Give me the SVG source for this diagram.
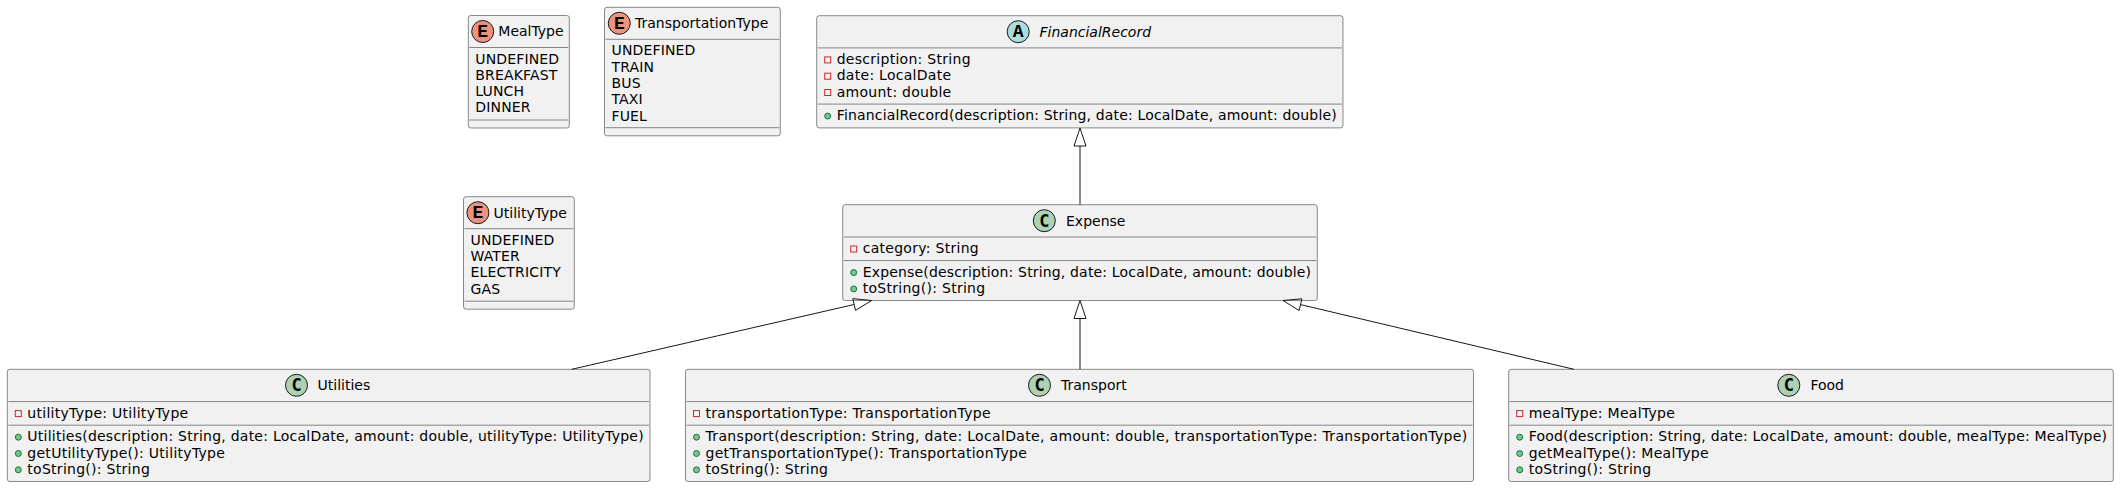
<svg xmlns="http://www.w3.org/2000/svg" width="2120" height="488" viewBox="0 0 2120 488">
<style>
.box{fill:#F1F1F1;stroke:#181818;stroke-width:0.5}
.sep{stroke:#181818;stroke-width:0.5}
.t{font-family:"DejaVu Sans","Liberation Sans",sans-serif;font-size:14px;fill:#000000}
.m{letter-spacing:0.28px}
.en{letter-spacing:0.15px}
.it{font-style:italic}
.priv{fill:none;stroke:#C82930;stroke-width:1}
.pub{fill:#84BE84;stroke:#038048;stroke-width:1}
.cc{fill:#ADD1B2;stroke:#181818;stroke-width:1}
.ce{fill:#EB937F;stroke:#181818;stroke-width:1}
.ca{fill:#A9DCDF;stroke:#181818;stroke-width:1}
.ltr{font-family:"DejaVu Sans Mono","Liberation Mono",monospace;font-weight:bold;font-size:17px;fill:#000000;text-anchor:middle}
.ltrs{font-family:"Liberation Mono","DejaVu Sans Mono",monospace;font-weight:bold;font-size:18px;fill:#000000;text-anchor:middle}
.link{stroke:#181818;stroke-width:1;fill:none}
.head{fill:none;stroke:#181818;stroke-width:1}
</style>

<g id="MealType">
<rect class="box" x="468.3" y="15.5" width="101" height="112.5" rx="2.5" ry="2.5"/>
<circle class="ce" cx="482.7" cy="31.5" r="11"/>
<text class="ltrs" x="482.7" y="37">E</text>
<text class="t" x="498.3" y="36.3">MealType</text>
<line class="sep" x1="469.3" y1="47.5" x2="568.3" y2="47.5"/>
<text class="t en" x="475.3" y="63.5">UNDEFINED</text>
<text class="t en" x="475.3" y="79.8">BREAKFAST</text>
<text class="t en" x="475.3" y="96.1">LUNCH</text>
<text class="t en" x="475.3" y="112.4">DINNER</text>
<line class="sep" x1="469.3" y1="120" x2="568.3" y2="120"/>
</g>

<g id="TransportationType">
<rect class="box" x="604.5" y="7.3" width="175.8" height="128.5" rx="2.5" ry="2.5"/>
<circle class="ce" cx="619.3" cy="23.3" r="11"/>
<text class="ltrs" x="619.3" y="28.8">E</text>
<text class="t" x="635" y="28.1">TransportationType</text>
<line class="sep" x1="605.5" y1="39.3" x2="779.3" y2="39.3"/>
<text class="t en" x="611.5" y="55.3">UNDEFINED</text>
<text class="t en" x="611.5" y="71.6">TRAIN</text>
<text class="t en" x="611.5" y="87.9">BUS</text>
<text class="t en" x="611.5" y="104.2">TAXI</text>
<text class="t en" x="611.5" y="120.5">FUEL</text>
<line class="sep" x1="605.5" y1="127.7" x2="779.3" y2="127.7"/>
</g>

<g id="FinancialRecord">
<rect class="box" x="816.7" y="15.7" width="526.3" height="112.2" rx="2.5" ry="2.5"/>
<circle class="ca" cx="1018.2" cy="31.7" r="11"/>
<text class="ltrs" x="1018.2" y="37.2">A</text>
<text class="t it" x="1039.5" y="36.5">FinancialRecord</text>
<line class="sep" x1="817.7" y1="47.9" x2="1342" y2="47.9"/>
<rect class="priv" x="824.7" y="56.9" width="6" height="6"/>
<text class="t m" x="836.7" y="63.9">description: String</text>
<rect class="priv" x="824.7" y="73.2" width="6" height="6"/>
<text class="t m" x="836.7" y="80.2">date: LocalDate</text>
<rect class="priv" x="824.7" y="89.5" width="6" height="6"/>
<text class="t m" x="836.7" y="96.5">amount: double</text>
<line class="sep" x1="817.7" y1="104.1" x2="1342" y2="104.1"/>
<circle class="pub" cx="827.7" cy="116.1" r="3"/>
<text class="t" x="836.7" y="120.1" textLength="500" lengthAdjust="spacing">FinancialRecord(description: String, date: LocalDate, amount: double)</text>
</g>

<g id="UtilityType">
<rect class="box" x="463.5" y="196.7" width="110.8" height="112.5" rx="2.5" ry="2.5"/>
<circle class="ce" cx="477.9" cy="212.7" r="11"/>
<text class="ltrs" x="477.9" y="218.2">E</text>
<text class="t" x="493.5" y="217.5">UtilityType</text>
<line class="sep" x1="464.5" y1="228.7" x2="573.3" y2="228.7"/>
<text class="t en" x="470.5" y="244.7">UNDEFINED</text>
<text class="t en" x="470.5" y="261">WATER</text>
<text class="t en" x="470.5" y="277.3">ELECTRICITY</text>
<text class="t en" x="470.5" y="293.6">GAS</text>
<line class="sep" x1="464.5" y1="301.2" x2="573.3" y2="301.2"/>
</g>

<g id="Expense">
<rect class="box" x="842.7" y="204.7" width="474.6" height="95.8" rx="2.5" ry="2.5"/>
<circle class="cc" cx="1044.3" cy="220.7" r="11"/>
<text class="ltr" x="1044.3" y="226.6">C</text>
<text class="t" x="1066" y="225.5">Expense</text>
<line class="sep" x1="843.7" y1="237" x2="1316.3" y2="237"/>
<rect class="priv" x="850.7" y="246" width="6" height="6"/>
<text class="t m" x="862.7" y="253">category: String</text>
<line class="sep" x1="843.7" y1="260.6" x2="1316.3" y2="260.6"/>
<circle class="pub" cx="853.7" cy="272.6" r="3"/>
<text class="t" x="862.7" y="276.6" textLength="448.3" lengthAdjust="spacing">Expense(description: String, date: LocalDate, amount: double)</text>
<circle class="pub" cx="853.7" cy="288.9" r="3"/>
<text class="t m" x="862.7" y="292.9">toString(): String</text>
</g>

<g id="Utilities">
<rect class="box" x="7.3" y="369.3" width="642.7" height="112.2" rx="2.5" ry="2.5"/>
<circle class="cc" cx="296.5" cy="385.3" r="11"/>
<text class="ltr" x="296.5" y="391.2">C</text>
<text class="t" x="317.5" y="390.1">Utilities</text>
<line class="sep" x1="8.3" y1="401.6" x2="649" y2="401.6"/>
<rect class="priv" x="15.3" y="410.6" width="6" height="6"/>
<text class="t m" x="27.3" y="417.6">utilityType: UtilityType</text>
<line class="sep" x1="8.3" y1="425.2" x2="649" y2="425.2"/>
<circle class="pub" cx="18.3" cy="437.2" r="3"/>
<text class="t" x="27.3" y="441.2" textLength="616.4" lengthAdjust="spacing">Utilities(description: String, date: LocalDate, amount: double, utilityType: UtilityType)</text>
<circle class="pub" cx="18.3" cy="453.5" r="3"/>
<text class="t m" x="27.3" y="457.5">getUtilityType(): UtilityType</text>
<circle class="pub" cx="18.3" cy="469.8" r="3"/>
<text class="t m" x="27.3" y="473.8">toString(): String</text>
</g>

<g id="Transport">
<rect class="box" x="685.5" y="369.3" width="788" height="112.2" rx="2.5" ry="2.5"/>
<circle class="cc" cx="1039.5" cy="385.3" r="11"/>
<text class="ltr" x="1039.5" y="391.2">C</text>
<text class="t" x="1061" y="390.1">Transport</text>
<line class="sep" x1="686.5" y1="401.6" x2="1472.5" y2="401.6"/>
<rect class="priv" x="693.5" y="410.6" width="6" height="6"/>
<text class="t m" x="705.5" y="417.6">transportationType: TransportationType</text>
<line class="sep" x1="686.5" y1="425.2" x2="1472.5" y2="425.2"/>
<circle class="pub" cx="696.5" cy="437.2" r="3"/>
<text class="t" x="705.5" y="441.2" textLength="761.7" lengthAdjust="spacing">Transport(description: String, date: LocalDate, amount: double, transportationType: TransportationType)</text>
<circle class="pub" cx="696.5" cy="453.5" r="3"/>
<text class="t m" x="705.5" y="457.5">getTransportationType(): TransportationType</text>
<circle class="pub" cx="696.5" cy="469.8" r="3"/>
<text class="t m" x="705.5" y="473.8">toString(): String</text>
</g>

<g id="Food">
<rect class="box" x="1508.7" y="369.3" width="604.6" height="112.2" rx="2.5" ry="2.5"/>
<circle class="cc" cx="1788.8" cy="385.3" r="11"/>
<text class="ltr" x="1788.8" y="391.2">C</text>
<text class="t" x="1810.4" y="390.1">Food</text>
<line class="sep" x1="1509.7" y1="401.6" x2="2112.3" y2="401.6"/>
<rect class="priv" x="1516.7" y="410.6" width="6" height="6"/>
<text class="t m" x="1528.7" y="417.6">mealType: MealType</text>
<line class="sep" x1="1509.7" y1="425.2" x2="2112.3" y2="425.2"/>
<circle class="pub" cx="1519.7" cy="437.2" r="3"/>
<text class="t" x="1528.7" y="441.2" textLength="578.3" lengthAdjust="spacing">Food(description: String, date: LocalDate, amount: double, mealType: MealType)</text>
<circle class="pub" cx="1519.7" cy="453.5" r="3"/>
<text class="t m" x="1528.7" y="457.5">getMealType(): MealType</text>
<circle class="pub" cx="1519.7" cy="469.8" r="3"/>
<text class="t m" x="1528.7" y="473.8">toString(): String</text>
</g>

<g id="connectors">
<line class="link" x1="1080" y1="204.7" x2="1080" y2="146"/>
<polygon class="head" points="1080,128 1074,146 1086,146"/>
<line class="link" x1="1080" y1="369.3" x2="1080" y2="318.5"/>
<polygon class="head" points="1080,300.5 1074,318.5 1086,318.5"/>
<line class="link" x1="571.7" y1="369.3" x2="854.15" y2="304.5"/>
<polygon class="head" points="871.7,300.5 852.8,298.65 855.5,310.35"/>
<line class="link" x1="1574" y1="369.3" x2="1300.5" y2="304.6"/>
<polygon class="head" points="1283,300.5 1301.9,298.8 1299.1,310.5"/>
</g>
</svg>
